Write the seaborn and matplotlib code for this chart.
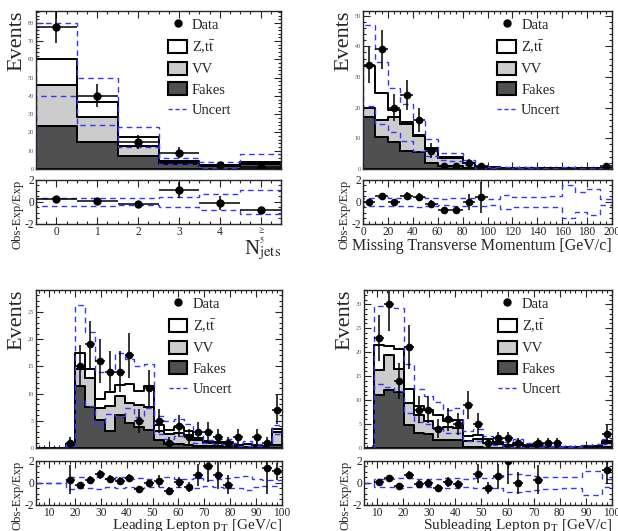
#!/usr/bin/env python3
import numpy as np
import pandas as pd
import seaborn as sns
import matplotlib.pyplot as plt
from matplotlib.ticker import MultipleLocator
from matplotlib.patches import Patch
from matplotlib.lines import Line2D

# ---- N jets (6 bins, last one is >= 5)
njet_edges = np.arange(-0.5, 6.0, 1.0)
njet_labels = ["0", "1", "2", "3", "4", r"$\genfrac{}{}{0}{}{\geq}{5}$"]
njet_fakes = [23.5, 14.8, 7.0, 2.5, 1.5, 3.0]
njet_vv = [22.5, 13.9, 5.5, 1.2, 0.4, 0.5]
njet_ztt = [14.0, 8.1, 5.1, 0.6, 0.3, 0.5]
njet_data = [78, 40, 15, 9, 2, 1]
njet_unc = [0.33, 0.35, 0.32, 0.42, 0.75, 1.05]

# ---- missing transverse momentum (20 bins of 10 GeV)
met_edges = np.arange(0, 201, 10)
met_fakes = [16.8, 10.3, 8.9, 6.0, 5.5, 1.8, 1.0, 0.9, 0.4, 0.1,
             0.05, 0.05, 0.05, 0.05, 0.05, 0.03, 0.03, 0.03, 0.03, 0.05]
met_vv = [3.0, 5.7, 8.2, 8.8, 5.3, 4.7, 2.6, 2.6, 1.5, 0.5,
          0.4, 0.35, 0.3, 0.25, 0.2, 0.2, 0.17, 0.17, 0.12, 0.2]
met_ztt = [13.9, 8.7, 2.1, 0.4, 0.3, 0.5, 0.4, 0.4, 0.1, 0.1,
           0.05, 0.05, 0.05, 0.05, 0.05, 0.05, 0.05, 0.05, 0.05, 0.05]
met_data = [34, 39, 20, 24, 16, 6, 1, 1, 2, 1,
            0, 0, 0, 0, 0, 0, 0, 0, 0, 1]
met_unc = [0.39, 0.41, 0.37, 0.40, 0.47, 0.38, 0.30, 0.33, 0.40, 0.35,
           0.30, 0.65, 0.45, 0.45, 0.45, 0.50, 1.50, 0.90, 1.20, 0.30]

# ---- leading / subleading lepton pT (25 bins from 5 to 100 GeV)
pt_edges = np.linspace(5, 100, 26)
lead_fakes = [0, 0, 0, 0.5, 11.3, 7.6, 5.1, 3.1, 6.1, 4.5, 3.9, 3.3, 1.5,
              0.8, 0.7, 0.6, 0.4, 0.3, 0.3, 0.2, 0.15, 0.2, 0.1, 0.1, 0.5]
lead_vv = [0, 0, 0, 0.2, 3.2, 5.2, 2.2, 4.6, 3.4, 3.8, 4.0, 4.3, 1.6,
           1.7, 2.1, 1.7, 1.0, 0.7, 0.65, 0.7, 0.35, 0.45, 0.3, 0.22, 2.5]
lead_ztt = [0, 0, 0, 0.07, 3.0, 1.7, 1.7, 2.5, 2.1, 3.5, 2.5, 3.8, 1.1,
            0.8, 1.0, 0.8, 0.36, 0.2, 0.23, 0.28, 0.1, 0.15, 0.15, 0.1, 0.4]
lead_data = [0, 0, 0, 1, 15, 19, 16, 14, 14, 17, 5, 11, 5,
             1, 4, 2, 3, 3, 2, 1, 2, 0, 2, 1, 7]
lead_unc = [0, 0, 0, 0.55, 0.50, 0.47, 0.55, 0.38, 0.50, 0.38, 0.45, 0.35, 0.40,
            0.50, 0.40, 0.40, 0.45, 0.30, 0.40, 0.45, 0.50, 0.60, 0.35, 0.30, 0.25]

sub_fakes = [0, 11.0, 12.1, 11.7, 4.7, 3.2, 2.85, 1.6, 1.6, 1.6, 0.2, 0.2, 0.1,
             0.1, 0.05, 0.05, 0.05, 0.05, 0.02, 0.02, 0.02, 0.02, 0.02, 0.02, 0.2]
sub_vv = [0, 5.3, 7.3, 4.9, 4.7, 3.7, 2.75, 2.6, 2.7, 2.6, 1.3, 1.6, 1.0,
          0.7, 0.4, 0.6, 0.35, 0.45, 0.2, 0.18, 0.2, 0.2, 0.2, 0.25, 0.9]
sub_ztt = [0, 5.2, 1.9, 4.0, 3.0, 1.9, 2.4, 2.7, 1.3, 1.6, 1.0, 0.9, 0.7,
           0.45, 0.22, 0.35, 0.2, 0.27, 0.08, 0.1, 0.08, 0.08, 0.1, 0.13, 0.26]
sub_data = [0, 23, 30, 14, 21, 8, 8, 4, 6, 5, 9, 5, 1,
            2, 2, 1, 0, 1, 1, 1, 0, 0, 0, 0, 3]
sub_unc = [0, 0.38, 0.40, 0.42, 0.41, 0.39, 0.37, 0.38, 0.43, 0.45, 0.40, 0.45, 0.45,
           0.50, 0.80, 0.80, 0.70, 0.60, 0.55, 0.55, 0.50, 0.50, 1.05, 1.05, 0.40]

PALETTE = {"Ztt": "white", "VV": "#cccccc", "Fakes": "#505050"}
UNC_COLOR = "#3535ff"


def stack_frame(centers, fakes, vv, ztt):
    n = len(centers)
    return pd.DataFrame({
        "x": np.tile(centers, 3),
        "w": np.concatenate([ztt, vv, fakes]),
        "proc": np.repeat(["Ztt", "VV", "Fakes"], n),
    })


def style_axis(ax):
    ax.tick_params(which="both", direction="in", top=True, right=True, width=0.8)
    ax.tick_params(which="major", length=5)
    ax.tick_params(which="minor", length=2.5)
    for s in ax.spines.values():
        s.set_linewidth(1.0)


def draw_panel(fig, main_rect, ratio_rect, edges, fakes, vv, ztt, data, unc,
               ymax, ymaj, xmaj, xmin_step, xlabel, xlabel_size=11.5,
               xticks=None, xticklabels=None, ms=4.5, xlabelpad=-2):
    edges = np.asarray(edges, float)
    centers = 0.5 * (edges[1:] + edges[:-1])
    half = 0.5 * np.diff(edges)
    fakes, vv, ztt = (np.asarray(a, float) for a in (fakes, vv, ztt))
    data = np.asarray(data, float)
    unc = np.asarray(unc, float)
    total = fakes + vv + ztt

    ax = fig.add_axes(main_rect)
    rax = fig.add_axes(ratio_rect)

    sns.histplot(data=stack_frame(centers, fakes, vv, ztt), x="x", weights="w",
                 hue="proc", hue_order=["Ztt", "VV", "Fakes"], multiple="stack",
                 bins=list(edges), element="step", fill=True, palette=PALETTE,
                 alpha=1, edgecolor="black", linewidth=1.4, legend=False, ax=ax)

    ax.stairs(total * (1 + unc), edges, color=UNC_COLOR, ls=(0, (4, 3)), lw=1.0)
    ax.stairs(total * (1 - unc), edges, color=UNC_COLOR, ls=(0, (4, 3)), lw=1.0)

    m = data > 0
    ax.errorbar(centers[m], data[m], yerr=np.sqrt(data[m]), xerr=half[m],
                fmt="o", color="black", ms=ms, elinewidth=1.1, capsize=0)

    ax.set_xlim(edges[0], edges[-1])
    ax.set_ylim(0, ymax)
    ax.yaxis.set_major_locator(MultipleLocator(ymaj))
    ax.yaxis.set_minor_locator(MultipleLocator(ymaj / 5))
    ax.xaxis.set_major_locator(MultipleLocator(xmaj))
    ax.xaxis.set_minor_locator(MultipleLocator(xmin_step))
    ax.set_xticklabels([])
    ax.set_xlabel("")
    ax.set_ylabel("Events", fontsize=16, loc="top", labelpad=1)
    ax.tick_params(axis="y", labelsize=4.5, labelcolor="#555555", pad=1.5)
    style_axis(ax)

    handles = [
        Line2D([], [], marker="o", color="black", ls="none", ms=5),
        Patch(facecolor="white", edgecolor="black", lw=1.5),
        Patch(facecolor=PALETTE["VV"], edgecolor="black", lw=1.5),
        Patch(facecolor=PALETTE["Fakes"], edgecolor="black", lw=1.5),
        Line2D([], [], color=UNC_COLOR, ls=(0, (3, 2)), lw=1.0),
    ]
    labels = ["Data", "Z,t$\\bar{\\mathrm{t}}$", "VV", "Fakes", "Uncert"]
    ax.legend(handles, labels, loc="upper left", bbox_to_anchor=(0.515, 0.995),
              frameon=False, fontsize=10.5, handlelength=1.3, handleheight=1.0,
              labelspacing=0.42, handletextpad=0.35, borderaxespad=0.0)

    # ratio panel: (obs - exp) / exp
    band = np.where(total > 0, unc, 0.0)
    rax.stairs(band, edges, color=UNC_COLOR, ls=(0, (4, 3)), lw=1.0)
    rax.stairs(-band, edges, color=UNC_COLOR, ls=(0, (4, 3)), lw=1.0)
    safe = np.where(total > 0, total, 1.0)
    ratio = (data - total) / safe
    rerr = np.sqrt(data) / safe
    k = (data > 0) & (total > 0) & (ratio <= 2.05)
    rax.errorbar(centers[k], ratio[k], yerr=rerr[k], xerr=half[k],
                 fmt="o", color="black", ms=ms, elinewidth=1.1, capsize=0)
    rax.set_xlim(edges[0], edges[-1])
    rax.set_ylim(-2, 2)
    rax.set_yticks([-2, 0, 2])
    rax.yaxis.set_minor_locator(MultipleLocator(0.5))
    if xticks is not None:
        rax.set_xticks(xticks)
        rax.set_xticklabels(xticklabels)
    else:
        rax.xaxis.set_major_locator(MultipleLocator(xmaj))
    rax.xaxis.set_minor_locator(MultipleLocator(xmin_step))
    rax.tick_params(axis="both", labelsize=8.3, pad=1.2)
    rax.set_ylabel("Obs-Exp/Exp", fontsize=9.2, loc="top", labelpad=1)
    rax.set_xlabel(xlabel, fontsize=xlabel_size, loc="right", labelpad=xlabelpad)
    style_axis(rax)
    return ax, rax


def main():
    sns.set_style("ticks")
    plt.rcParams["font.family"] = ["Liberation Serif", "DejaVu Serif"]
    plt.rcParams["mathtext.fontset"] = "stix"
    plt.rcParams["axes.unicode_minus"] = False

    fig = plt.figure(figsize=(6.18, 5.31), dpi=100)

    draw_panel(fig, [0.0583, 0.6817, 0.3964, 0.2976], [0.0583, 0.5782, 0.3964, 0.0829],
               njet_edges, njet_fakes, njet_vv, njet_ztt, njet_data, njet_unc,
               ymax=86.5, ymaj=10, xmaj=1, xmin_step=0.25,
               xlabel="N$_{\\mathrm{jets}}$", xlabel_size=15, xlabelpad=-5,
               xticks=np.arange(6), xticklabels=njet_labels, ms=5)

    draw_panel(fig, [0.5874, 0.6817, 0.4029, 0.2976], [0.5874, 0.5782, 0.4029, 0.0829],
               met_edges, met_fakes, met_vv, met_ztt, met_data, met_unc,
               ymax=51.5, ymaj=10, xmaj=20, xmin_step=5, xlabelpad=0,
               xlabel="Missing Transverse Momentum [GeV/c]")

    draw_panel(fig, [0.0583, 0.1563, 0.3980, 0.2976], [0.0583, 0.0490, 0.3980, 0.0829],
               pt_edges, lead_fakes, lead_vv, lead_ztt, lead_data, lead_unc,
               ymax=29, ymaj=5, xmaj=10, xmin_step=2, xlabel_size=11,
               xlabel="Leading Lepton p$_{\\mathrm{T}}$ [GeV/c]", xlabelpad=-1.5)

    draw_panel(fig, [0.5890, 0.1563, 0.4013, 0.2976], [0.5890, 0.0490, 0.4013, 0.0829],
               pt_edges, sub_fakes, sub_vv, sub_ztt, sub_data, sub_unc,
               ymax=33, ymaj=5, xmaj=10, xmin_step=2, xlabel_size=11,
               xlabel="Subleading Lepton p$_{\\mathrm{T}}$ [GeV/c]", xlabelpad=-1.5)

    fig.savefig("out.png", dpi=100)
    plt.close(fig)


if __name__ == "__main__":
    main()
